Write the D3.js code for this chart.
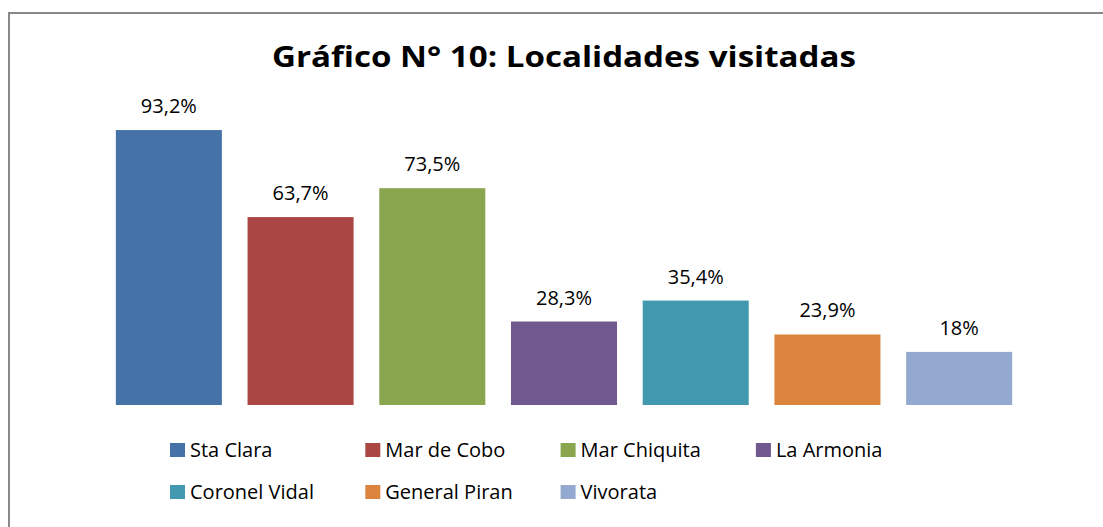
<!DOCTYPE html>
<html>
<head>
<meta charset="utf-8">
<script src="https://cdn.jsdelivr.net/npm/d3@7"></script>
<style>
  body { margin: 0; background: #fff; }
  svg { display: block; font-family: "Open Sans", sans-serif; }
</style>
</head>
<body>
<svg width="1103" height="527"></svg>
<script>
const svg = d3.select("svg");

const localidades = ["Sta Clara", "Mar de Cobo", "Mar Chiquita", "La Armonia", "Coronel Vidal", "General Piran", "Vivorata"];
const porcentajes = [93.2, 63.7, 73.5, 28.3, 35.4, 23.9, 18];
const etiquetas = ["93,2%", "63,7%", "73,5%", "28,3%", "35,4%", "23,9%", "18%"];
const colores = ["#4572a7", "#aa4643", "#89a54e", "#71588f", "#4198af", "#db843d", "#93a9cf"];

// chart frame (only left and top edges visible in the crop)
svg.append("rect")
  .attr("x", 9).attr("y", 13)
  .attr("width", 1200).attr("height", 600)
  .attr("fill", "none")
  .attr("stroke", "#888")
  .attr("stroke-width", 2);

svg.append("text")
  .attr("x", 564)
  .attr("y", 67)
  .attr("text-anchor", "middle")
  .attr("font-size", 28)
  .attr("font-weight", "bold")
  .attr("textLength", 584)
  .attr("lengthAdjust", "spacingAndGlyphs")
  .text("Gráfico N° 10: Localidades visitadas");

const x = d3.scaleBand()
  .domain(localidades)
  .range([103, 1025])
  .paddingInner(0.195)
  .paddingOuter(0.0975);

const y = d3.scaleLinear()
  .domain([0, 100])
  .range([405, 110]);

svg.selectAll("rect.bar")
  .data(localidades)
  .enter()
  .append("rect")
  .attr("class", "bar")
  .attr("x", d => x(d))
  .attr("y", (d, i) => y(porcentajes[i]))
  .attr("width", x.bandwidth())
  .attr("height", (d, i) => y(0) - y(porcentajes[i]))
  .attr("fill", (d, i) => colores[i]);

svg.selectAll("text.val")
  .data(localidades)
  .enter()
  .append("text")
  .attr("class", "val")
  .attr("x", d => x(d) + x.bandwidth() / 2)
  .attr("y", (d, i) => y(porcentajes[i]) - 17)
  .attr("text-anchor", "middle")
  .attr("font-size", 20)
  .attr("fill", "#000")
  .text((d, i) => etiquetas[i]);

const legend = svg.selectAll("g.leg")
  .data(localidades)
  .enter()
  .append("g")
  .attr("class", "leg")
  .attr("transform", (d, i) => `translate(${170 + (i % 4) * 195.3},${443 + Math.floor(i / 4) * 42})`);

legend.append("rect")
  .attr("width", 15).attr("height", 14)
  .attr("fill", (d, i) => colores[i]);

legend.append("text")
  .attr("x", 20)
  .attr("y", 14)
  .attr("font-size", 20)
  .text(d => d);
</script>
</body>
</html>
